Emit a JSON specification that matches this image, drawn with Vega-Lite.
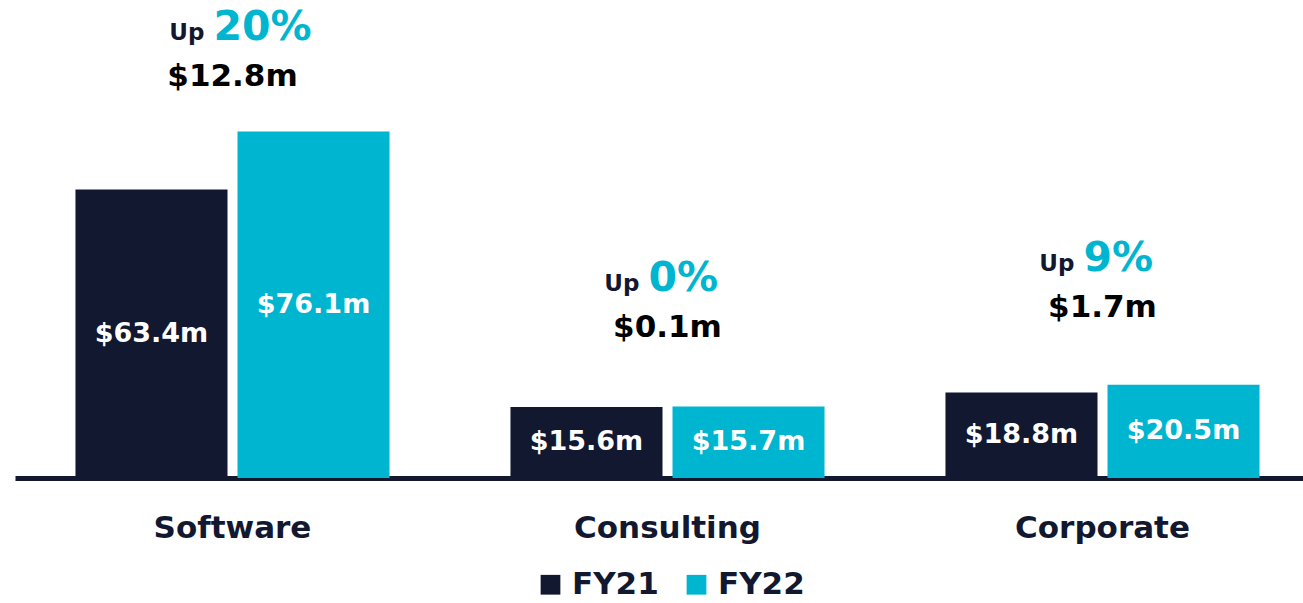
{
  "$schema": "https://vega.github.io/schema/vega-lite/v6.json",
  "autosize": "none",
  "width": 1288,
  "height": 478,
  "padding": {"left": 15, "top": 0, "right": 0, "bottom": 125},
  "background": "white",
  "config": {"view": {"stroke": null}, "font": "DejaVu Sans"},
  "resolve": {"scale": {"y": "independent"}, "axis": {"y": "independent"}},
  "datasets": {
    "bars": [
      {"category": "Software", "series": "FY21", "value": 63.4, "label": "$63.4m"},
      {"category": "Software", "series": "FY22", "value": 76.1, "label": "$76.1m"},
      {"category": "Consulting", "series": "FY21", "value": 15.6, "label": "$15.6m"},
      {"category": "Consulting", "series": "FY22", "value": 15.7, "label": "$15.7m"},
      {"category": "Corporate", "series": "FY21", "value": 18.8, "label": "$18.8m"},
      {"category": "Corporate", "series": "FY22", "value": 20.5, "label": "$20.5m"}
    ],
    "notes": [
      {"category": "Software", "pct": "20%", "delta": "$12.8m", "top": 76.1},
      {"category": "Consulting", "pct": "0%", "delta": "$0.1m", "top": 15.7},
      {"category": "Corporate", "pct": "9%", "delta": "$1.7m", "top": 20.5}
    ]
  },
  "layer": [
    {
      "data": {"name": "bars"},
      "mark": {"type": "bar"},
      "encoding": {
        "x": {
          "field": "category", "type": "nominal", "sort": ["Software", "Consulting", "Corporate"],
          "scale": {"range": [0, 1305], "paddingInner": 0.278, "paddingOuter": 0.139},
          "axis": {
            "title": null, "domain": true, "domainColor": "#111830", "domainWidth": 5,
            "ticks": false, "grid": false, "labelAngle": 0, "labelLimit": 0,
            "labelFont": "DejaVu Sans", "labelFontWeight": "bold", "labelFontSize": 31,
            "labelColor": "#111830", "labelBaseline": "alphabetic", "labelPadding": 59
          }
        },
        "xOffset": {"field": "series", "type": "nominal", "scale": {"paddingInner": 0.0617, "paddingOuter": 0}},
        "y": {"field": "value", "type": "quantitative", "stack": null, "scale": {"domain": [0, 105], "nice": false, "zero": true}, "axis": null},
        "color": {
          "field": "series", "type": "nominal",
          "scale": {"domain": ["FY21", "FY22"], "range": ["#111830", "#00B5D0"]},
          "legend": {
            "title": null, "orient": "none", "legendX": 520, "legendY": 569, "direction": "horizontal",
            "symbolType": "square", "symbolSize": 390, "symbolStrokeWidth": 0, "symbolOpacity": 1,
            "labelFont": "DejaVu Sans", "labelFontWeight": "bold", "labelFontSize": 31, "labelColor": "#111830",
            "labelOffset": 6, "columnPadding": 22, "padding": 0
          }
        }
      }
    },
    {
      "data": {"name": "bars"},
      "mark": {"type": "text", "font": "DejaVu Sans", "fontWeight": "bold", "fontSize": 27, "color": "white", "baseline": "middle"},
      "encoding": {
        "x": {"field": "category", "type": "nominal", "sort": ["Software", "Consulting", "Corporate"]},
        "xOffset": {"field": "series", "type": "nominal"},
        "y": {"field": "value", "type": "quantitative", "stack": "zero", "bandPosition": 0.5, "scale": {"domain": [0, 105], "nice": false, "zero": true}, "axis": null},
        "detail": {"field": "series"},
        "text": {"field": "label"}
      }
    },
    {
      "data": {"name": "notes"},
      "mark": {"type": "text", "font": "DejaVu Sans", "fontWeight": "bold", "fontSize": 31, "color": "black", "baseline": "alphabetic", "align": "center"},
      "encoding": {
        "x": {"field": "category", "type": "nominal", "sort": ["Software", "Consulting", "Corporate"]},
        "y": {"field": "top", "type": "quantitative", "scale": {"domain": [-18.2, 96.8], "nice": false, "zero": false}, "axis": null},
        "text": {"field": "delta"}
      }
    },
    {
      "data": {"name": "notes"},
      "mark": {"type": "text", "font": "DejaVu Sans", "fontWeight": "bold", "fontSize": 23, "color": "#111830", "baseline": "alphabetic", "align": "right", "dx": -28, "dy": -46},
      "encoding": {
        "x": {"field": "category", "type": "nominal", "sort": ["Software", "Consulting", "Corporate"]},
        "y": {"field": "top", "type": "quantitative", "scale": {"domain": [-18.2, 96.8], "nice": false, "zero": false}, "axis": null},
        "text": {"value": "Up"}
      }
    },
    {
      "data": {"name": "notes"},
      "mark": {"type": "text", "font": "DejaVu Sans", "fontWeight": "bold", "fontSize": 41, "color": "#00B5D0", "baseline": "alphabetic", "align": "left", "dx": -19, "dy": -46},
      "encoding": {
        "x": {"field": "category", "type": "nominal", "sort": ["Software", "Consulting", "Corporate"]},
        "y": {"field": "top", "type": "quantitative", "scale": {"domain": [-18.2, 96.8], "nice": false, "zero": false}, "axis": null},
        "text": {"field": "pct"}
      }
    }
  ]
}
